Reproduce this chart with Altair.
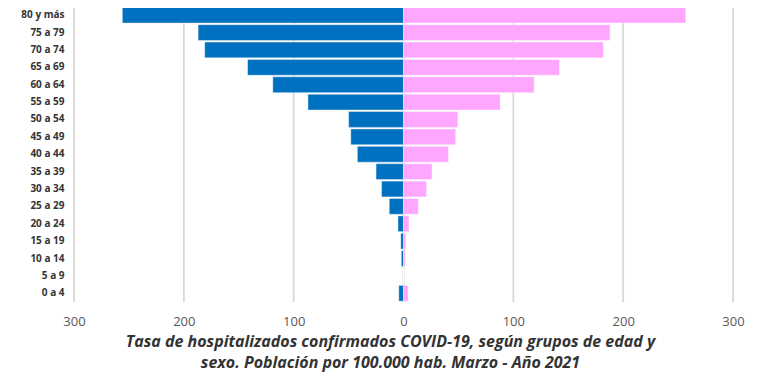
import altair as alt
import pandas as pd

grupos = ["80 y más", "75 a 79", "70 a 74", "65 a 69", "60 a 64", "55 a 59",
          "50 a 54", "45 a 49", "40 a 44", "35 a 39", "30 a 34", "25 a 29",
          "20 a 24", "15 a 19", "10 a 14", "5 a 9", "0 a 4"]
hombres = [256, 187, 181, 142, 119, 87, 50, 48, 42, 25, 20, 13, 5, 2.5, 2, 0, 4.3]
mujeres = [257, 188, 182, 142, 119, 88, 49.5, 47.5, 41, 26, 21, 13.5, 5, 2, 1.5, 0, 4.3]
ticks = [-300, -200, -100, 0, 100, 200, 300]
titulo = ["Tasa de hospitalizados confirmados COVID-19, según grupos de edad y",
          "sexo. Población por 100.000 hab. Marzo - Año 2021"]

rows = []
for g, h, m in zip(grupos, hombres, mujeres):
    rows.append({"grupo": g, "sexo": "Hombres", "valor": -h})
    rows.append({"grupo": g, "sexo": "Mujeres", "valor": m})
df = pd.DataFrame(rows)
grid_df = pd.DataFrame({"t": ticks})

FONT = "Open Sans"

xscale = alt.Scale(domain=[-300, 300], nice=False, range=[1, 660])

grid = alt.Chart(grid_df).mark_rule(color="#D9D9D9", strokeWidth=1.8).encode(
    x=alt.X("t:Q", scale=xscale),
    y=alt.value(-8),
    y2=alt.value(294),
)

bars = alt.Chart(df).mark_bar(stroke="white", strokeWidth=0.6, strokeOpacity=0.7).encode(
    x=alt.X("valor:Q",
            scale=xscale,
            axis=alt.Axis(values=ticks, labelExpr="format(abs(datum.value), 'd')",
                          domain=False, ticks=False, labelPadding=13, labelFlush=False,
                          labelFontSize=13, labelColor="#595959", labelFont=FONT,
                          grid=False,
                          title=titulo, titleFont=FONT, titleFontSize=16,
                          titleFontStyle="italic", titleFontWeight="bold",
                          titleColor="#333333", titleLineHeight=21.5,
                          titleX=317, titleY=31, titleBaseline="top",
                          titleAnchor="middle", titleAlign="center")),
    y=alt.Y("grupo:N", sort=grupos,
            scale=alt.Scale(range=[-1.5, 294], paddingInner=0.09, paddingOuter=0.045),
            axis=alt.Axis(title=None, domain=False, ticks=False, labelPadding=9,
                          labelFontSize=10, labelFontWeight="bold", labelColor="#333333",
                          labelFont=FONT, grid=False)),
    color=alt.Color("sexo:N",
                    scale=alt.Scale(domain=["Hombres", "Mujeres"], range=["#0070C0", "#FFA6FF"]),
                    legend=None),
)

chart = alt.layer(grid, bars).properties(
    width=660, height=294,
    autosize=alt.AutoSizeParams(type="none"),
    padding={"left": 65, "top": 0, "right": 20, "bottom": 70},
).configure_view(stroke=None)

chart.save("out.html", embed_options={"renderer": "svg", "actions": False})
